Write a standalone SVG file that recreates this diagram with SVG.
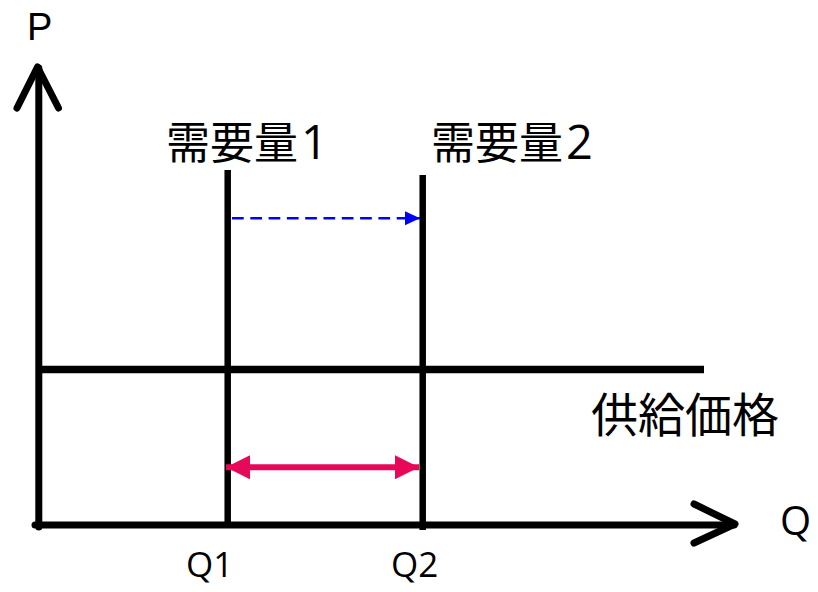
<svg xmlns="http://www.w3.org/2000/svg" width="818" height="592" viewBox="0 0 818 592">
<style>
.ax{stroke:#000;stroke-width:7;fill:none;stroke-linecap:round;stroke-linejoin:round}
.ln{stroke:#000;fill:none}
.lat{font-family:"Open Sans","Noto Sans",sans-serif;fill:#000}
.cjk{font-family:"Open Sans","Noto Sans CJK JP",sans-serif;fill:#000}
.dg{font-size:47px}
</style>
<defs>
<marker id="blueHead" markerUnits="userSpaceOnUse" markerWidth="16" markerHeight="16" refX="15" refY="7" orient="auto">
<path d="M0,0 L15,7 L0,14 Z" fill="#0000FF"/>
</marker>
<marker id="pinkHead" markerUnits="userSpaceOnUse" markerWidth="26" markerHeight="26" refX="24" refY="12" orient="auto-start-reverse">
<path d="M0,0 L24,12 L0,24 Z" fill="#E8085A"/>
</marker>
</defs>
<g id="connectors">
<g id="y-axis"><path class="ax" d="M38.8,527 L38.8,68"/><path class="ax" d="M17,108 L37.5,67 L58.5,108"/></g>
<g id="x-axis"><path class="ax" stroke-linecap="butt" d="M35,525 L734,525"/><path class="ax" d="M694,504 L735,524 L694,543"/></g>
<line class="ln" x1="38" y1="369.5" x2="704" y2="369.5" stroke-width="7.5"/>
<line class="ln" x1="227.7" y1="170" x2="227.7" y2="525" stroke-width="6.5"/>
<line class="ln" x1="422.7" y1="175" x2="422.7" y2="530" stroke-width="6.5"/>
<line x1="232" y1="218.3" x2="420" y2="218.3" stroke="#0000FF" stroke-width="2.5" stroke-dasharray="11.7,6.6" marker-end="url(#blueHead)"/>
<line x1="226" y1="467.3" x2="419" y2="467.3" stroke="#E8085A" stroke-width="6" marker-start="url(#pinkHead)" marker-end="url(#pinkHead)"/>
</g>
<g id="label-P"><text x="27" y="39.5" font-size="38" font-family="'Liberation Sans',Arial,sans-serif" fill="#000">P</text></g>
<g id="label-Q"><text class="lat" x="780" y="535" font-size="40">Q</text></g>
<g id="label-Q1"><text class="lat" x="186" y="577" font-size="35">Q1</text></g>
<g id="label-Q2"><text class="lat" x="391" y="577" font-size="35">Q2</text></g>
<g id="demand1"><text class="cjk" x="166" y="159" font-size="44">需要量<tspan class="dg" dx="3">1</tspan></text></g>
<g id="demand2"><text class="cjk" x="431" y="159" font-size="44">需要量<tspan class="dg" dx="3">2</tspan></text></g>
<g id="supply-price"><text class="cjk" x="591" y="432" font-size="47">供給価格</text></g>
</svg>
